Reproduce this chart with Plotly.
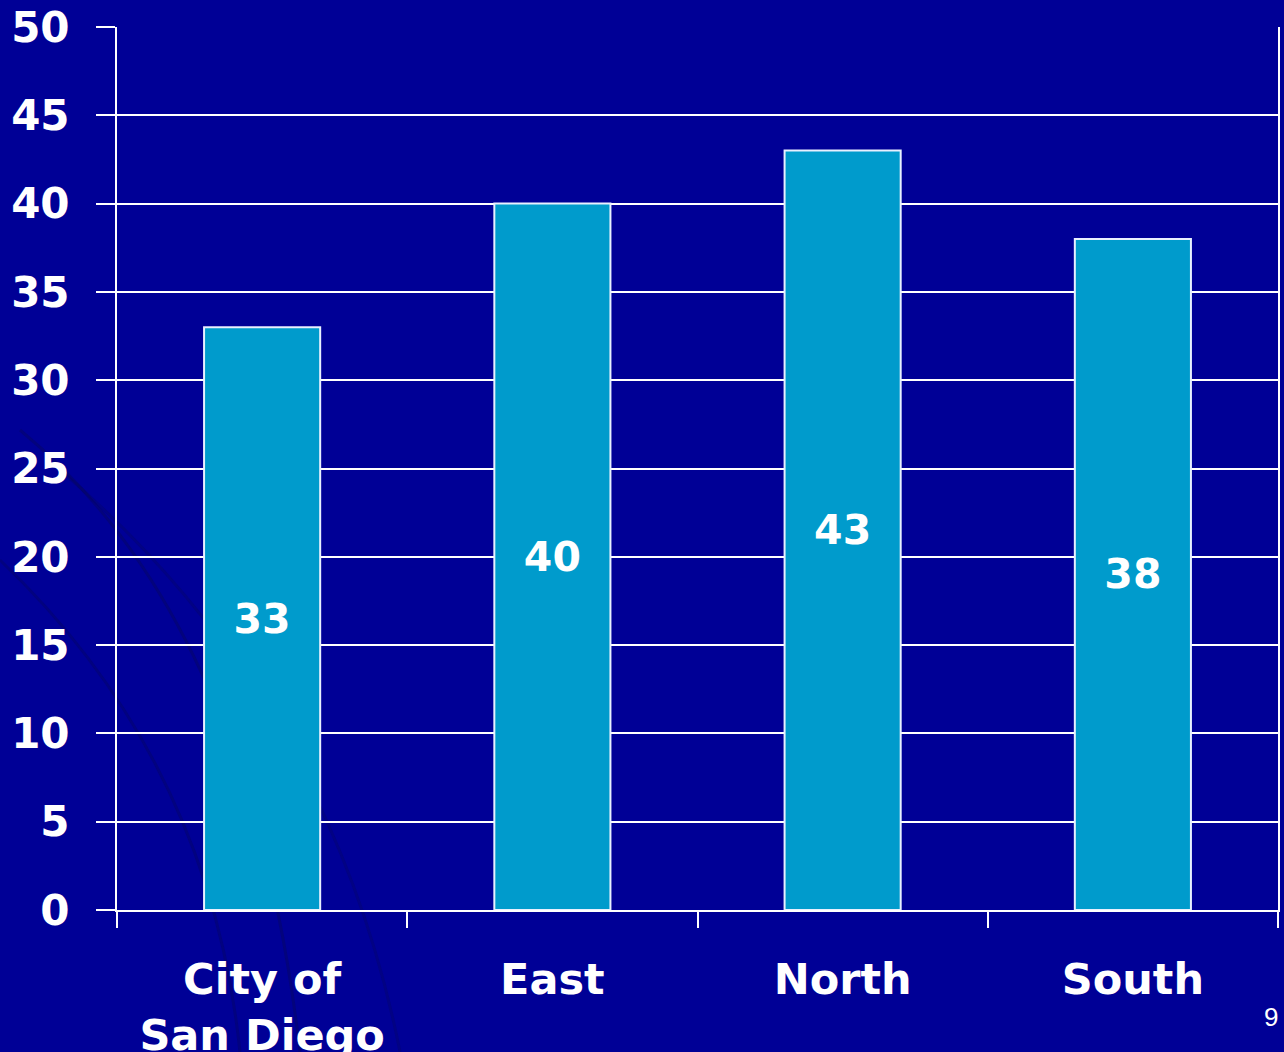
import plotly.graph_objects as go

categories = ['City of<br>San Diego', 'East', 'North', 'South']
values = [33, 40, 43, 38]
y_ticks = [0, 5, 10, 15, 20, 25, 30, 35, 40, 45, 50]

BG = '#000096'
BAR = '#009BCC'
FONT = 'DejaVu Sans, Arial, sans-serif'

W, H = 1284, 1052
L, R, T, B = 117, 6, 27, 142
pw, ph = W - L - R, H - T - B


def px(x, y):
    # pixel position -> paper coords
    return f'{(x - L) / pw:.4f} {(H - B - y) / ph:.4f}'


# faint decorative swooshes bottom-left
swooshes = [
    (((20, 430), (250, 620), (300, 1052)), 'rgba(10,10,60,0.28)'),
    (((0, 560), (210, 760), (240, 1052)), 'rgba(10,10,60,0.24)'),
    (((60, 470), (330, 700), (400, 1052)), 'rgba(10,10,60,0.20)'),
]
shapes = []
for (p0, p1, p2), col in swooshes:
    shapes.append(dict(
        type='path', xref='paper', yref='paper', layer='below',
        path=f'M {px(*p0)} Q {px(*p1)} {px(*p2)}',
        line=dict(color=col, width=3),
    ))

fig = go.Figure(go.Bar(
    x=categories, y=values,
    text=[str(v) for v in values],
    textposition='inside', insidetextanchor='middle',
    textfont=dict(family=FONT, size=41, color='white', weight='bold'),
    marker=dict(color=BAR, line=dict(color='#E8F0FF', width=2)),
    width=0.4,
))

fig.update_layout(
    width=W, height=H,
    paper_bgcolor=BG, plot_bgcolor='rgba(0,0,0,0)',
    margin=dict(l=L, r=R, t=T, b=B),
    showlegend=False,
    shapes=shapes,
    font=dict(family=FONT, color='white', size=40, weight='bold'),
    xaxis=dict(
        tickson='boundaries', ticks='outside', ticklen=16, tickwidth=2, tickcolor='white',
        showline=True, linecolor='white', linewidth=2, showgrid=False,
        tickfont=dict(family=FONT, size=43, color='white', weight='bold'),
        ticklabelstandoff=30, automargin=False,
    ),
    yaxis=dict(
        range=[0, 50], tickvals=y_ticks, ticks='outside', ticklen=19, tickwidth=2, tickcolor='white',
        showline=True, linecolor='white', linewidth=2, mirror=True,
        gridcolor='white', gridwidth=2, zeroline=False,
        tickfont=dict(family=FONT, size=42, color='white', weight='bold'),
        ticklabelstandoff=18, automargin=False,
    ),
    annotations=[dict(
        text='9', xref='paper', yref='paper', x=1.0, y=-0.102, xanchor='right', yanchor='top',
        showarrow=False, font=dict(family='Arial, Liberation Sans', size=26, color='white', weight='normal'),
        xshift=2,
    )],
)

fig.write_html('out.html', config={'displayModeBar': False},
               post_script="document.body.style.margin='0';document.body.style.overflow='hidden';")
